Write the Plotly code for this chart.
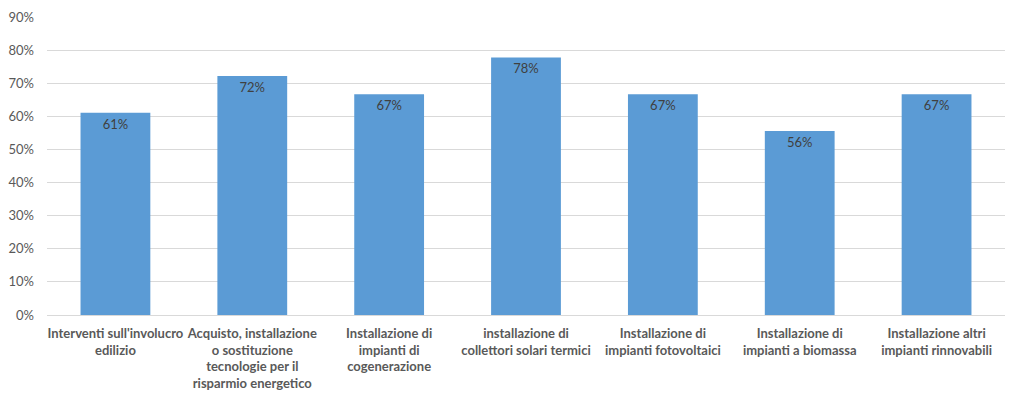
import plotly.graph_objects as go

categories = [
    "Interventi sull'involucro<br>edilizio",
    "Acquisto, installazione<br>o sostituzione<br>tecnologie per il<br>risparmio energetico",
    "Installazione di<br>impianti di<br>cogenerazione",
    "installazione di<br>collettori solari termici",
    "Installazione di<br>impianti fotovoltaici",
    "Installazione di<br>impianti a biomassa",
    "Installazione altri<br>impianti rinnovabili",
]
values = [0.611, 0.722, 0.667, 0.778, 0.667, 0.556, 0.667]
labels = ["61%", "72%", "67%", "78%", "67%", "56%", "67%"]
y_ticks = [0, 0.1, 0.2, 0.3, 0.4, 0.5, 0.6, 0.7, 0.8, 0.9]
y_ticktext = ["0%", "10%", "20%", "30%", "40%", "50%", "60%", "70%", "80%", "90%"]

fig = go.Figure(go.Bar(
    x=categories,
    y=values,
    text=labels,
    textposition="inside",
    insidetextanchor="end",
    textfont=dict(family="Lato", size=13, color="#404040"),
    marker=dict(color="#5b9bd5", line=dict(width=0)),
    width=0.51,
))

fig.update_layout(
    width=1024, height=401,
    margin=dict(l=47, r=19, t=17, b=86),
    paper_bgcolor="white",
    plot_bgcolor="white",
    showlegend=False,
    font=dict(family="Lato", color="#595959"),
    yaxis=dict(
        range=[0, 0.9],
        tickvals=y_ticks,
        ticktext=y_ticktext,
        showgrid=True,
        gridcolor="#d9d9d9",
        gridwidth=1,
        zeroline=False,
        automargin=False,
        tickfont=dict(family="Lato", size=13, color="#595959"),
        ticks="",
        ticklabelstandoff=12,
    ),
    xaxis=dict(
        showline=True,
        linecolor="#d9d9d9",
        linewidth=1,
        ticks="",
        tickangle=0,
        automargin=False,
        ticklabelstandoff=6,
        tickfont=dict(family="Lato", size=13, color="#595959", weight="bold"),
    ),
)

fig.write_html("out.html")
